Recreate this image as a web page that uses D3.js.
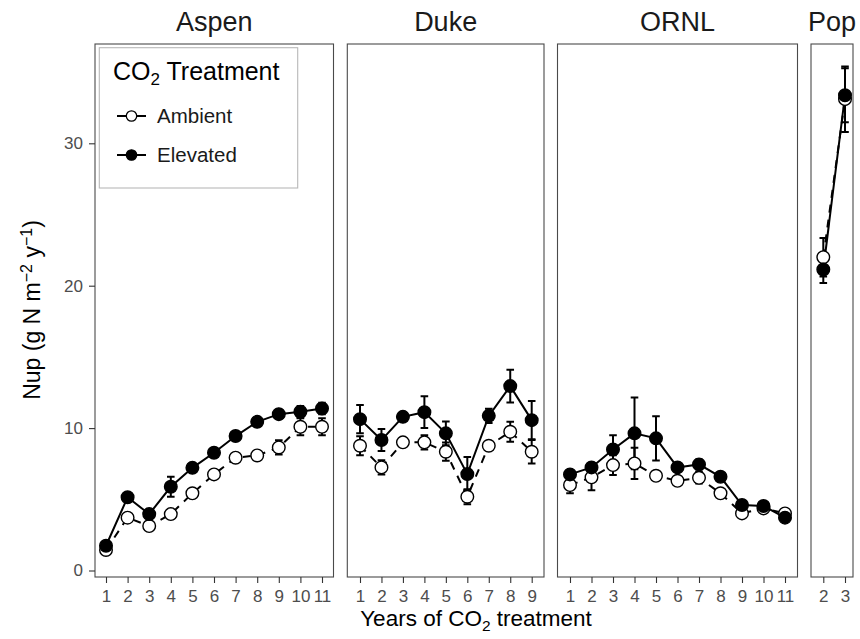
<!DOCTYPE html>
<html>
<head>
<meta charset="utf-8">
<script src="https://cdn.jsdelivr.net/npm/d3@7/dist/d3.min.js"></script>
<style>
  html, body { margin: 0; padding: 0; background: #ffffff; }
  svg { display: block; font-family: "Liberation Sans", Arial, Helvetica, sans-serif; }
</style>
</head>
<body>
<script>
// ---- Data: N uptake (g N m^-2 y^-1), mean and SE by year of CO2 treatment ----
const sites = ["Aspen", "Duke", "ORNL", "Pop"];
const yTicks = [0, 10, 20, 30];

const aspenYears = [1, 2, 3, 4, 5, 6, 7, 8, 9, 10, 11];
const aspenAmbient = [1.44, 3.71, 3.12, 3.96, 5.42, 6.75, 7.92, 8.08, 8.64, 10.09, 10.09];
const aspenAmbientSE = [0.2, 0.3, 0.2, 0.3, 0.3, 0.2, 0.3, 0.3, 0.5, 0.6, 0.6];
const aspenElevated = [1.74, 5.14, 3.96, 5.88, 7.21, 8.27, 9.44, 10.44, 10.98, 11.15, 11.38];
const aspenElevatedSE = [0.2, 0.3, 0.3, 0.7, 0.3, 0.3, 0.3, 0.3, 0.3, 0.4, 0.4];

const dukeYears = [1, 2, 3, 4, 5, 6, 7, 8, 9];
const dukeAmbient = [8.76, 7.24, 9.0, 9.0, 8.34, 5.18, 8.76, 9.74, 8.34];
const dukeAmbientSE = [0.67, 0.5, 0.25, 0.5, 0.64, 0.53, 0.3, 0.7, 0.82];
const dukeElevated = [10.63, 9.16, 10.79, 11.12, 9.63, 6.77, 10.86, 12.95, 10.56];
const dukeElevatedSE = [1.0, 0.77, 0.3, 1.12, 0.84, 1.2, 0.5, 1.15, 1.35];

const ornlYears = [1, 2, 3, 4, 5, 6, 7, 8, 9, 10, 11];
const ornlAmbient = [6.0, 6.54, 7.4, 7.52, 6.65, 6.3, 6.51, 5.42, 4.01, 4.36, 4.01];
const ornlAmbientSE = [0.58, 0.9, 0.7, 1.1, 0.3, 0.3, 0.4, 0.3, 0.3, 0.3, 0.2];
const ornlElevated = [6.75, 7.24, 8.5, 9.63, 9.28, 7.24, 7.45, 6.58, 4.6, 4.53, 3.71];
const ornlElevatedSE = [0.3, 0.3, 1.0, 2.52, 1.55, 0.3, 0.35, 0.3, 0.3, 0.3, 0.25];

const popYears = [2, 3];
const popAmbient = [22.0, 33.1];
const popAmbientSE = [1.35, 2.3];
const popElevated = [21.14, 33.37];
const popElevatedSE = [0.95, 1.9];

const treatments = ["Ambient", "Elevated"];

// Assemble per-site series
const siteData = [
  { years: aspenYears, amb: aspenAmbient, ambSE: aspenAmbientSE, elev: aspenElevated, elevSE: aspenElevatedSE },
  { years: dukeYears, amb: dukeAmbient, ambSE: dukeAmbientSE, elev: dukeElevated, elevSE: dukeElevatedSE },
  { years: ornlYears, amb: ornlAmbient, ambSE: ornlAmbientSE, elev: ornlElevated, elevSE: ornlElevatedSE },
  { years: popYears, amb: popAmbient, ambSE: popAmbientSE, elev: popElevated, elevSE: popElevatedSE }
].map((s, i) => ({
  site: sites[i],
  years: s.years,
  series: [
    { trt: "Ambient", pts: s.years.map((yr, j) => ({ yr, v: s.amb[j], se: s.ambSE[j] })) },
    { trt: "Elevated", pts: s.years.map((yr, j) => ({ yr, v: s.elev[j], se: s.elevSE[j] })) }
  ]
}));

// ---- Layout ----
const W = 860, H = 639;
const panelTop = 44, panelBottom = 577;
const panels = [
  { left: 95,    right: 333.5, r0: 106,   r1: 322 },
  { left: 347.3, right: 544,   r0: 360,   r1: 531.7 },
  { left: 557.5, right: 797.5, r0: 570,   r1: 785 },
  { left: 811,   right: 853,   r0: 823.3, r1: 845 }
];

const ink = "#000000";
const axisGrey = "#4d4d4d";
const borderGrey = "#4a4a4a";
const ptR = 6.3;
const dash = "8,7";

const svg = d3.select("body").append("svg").attr("width", W).attr("height", H);
svg.append("rect").attr("width", W).attr("height", H).attr("fill", "#ffffff");

const y = d3.scaleLinear().domain([0, 30]).range([570.5, 143.3]);

siteData.forEach((sd, i) => {
  const p = panels[i];
  const x = d3.scaleLinear()
    .domain([sd.years[0], sd.years[sd.years.length - 1]])
    .range([p.r0, p.r1]);

  const g = svg.append("g");

  // panel background
  g.append("rect")
    .attr("x", p.left).attr("y", panelTop)
    .attr("width", p.right - p.left).attr("height", panelBottom - panelTop)
    .attr("fill", "#ffffff");

  // strip label
  svg.append("text")
    .attr("x", (p.left + p.right) / 2).attr("y", 31)
    .attr("text-anchor", "middle")
    .attr("font-size", 27).attr("fill", "#1a1a1a")
    .text(sd.site);

  const line = d3.line().x(d => x(d.yr)).y(d => y(d.v));

  // lines
  sd.series.forEach(s => {
    g.append("path")
      .datum(s.pts)
      .attr("d", line)
      .attr("fill", "none")
      .attr("stroke", ink)
      .attr("stroke-width", 2)
      .attr("stroke-dasharray", s.trt === "Ambient" ? dash : null);
  });

  // error bars
  const cap = 3.8;
  sd.series.forEach(s => {
    const eb = g.append("g").attr("stroke", ink).attr("stroke-width", 2).attr("fill", "none");
    s.pts.forEach(d => {
      const cx = x(d.yr), yt = y(d.v + d.se), yb = y(d.v - d.se);
      eb.append("path").attr("d", `M${cx - cap},${yt}H${cx + cap}M${cx},${yt}V${yb}M${cx - cap},${yb}H${cx + cap}`);
    });
  });

  // points
  sd.series.forEach(s => {
    g.append("g").selectAll("circle")
      .data(s.pts).join("circle")
      .attr("cx", d => x(d.yr)).attr("cy", d => y(d.v))
      .attr("r", ptR)
      .attr("fill", s.trt === "Ambient" ? "#ffffff" : ink)
      .attr("stroke", ink).attr("stroke-width", 1.4);
  });

  // panel border
  g.append("rect")
    .attr("x", p.left).attr("y", panelTop)
    .attr("width", p.right - p.left).attr("height", panelBottom - panelTop)
    .attr("fill", "none").attr("stroke", borderGrey).attr("stroke-width", 1.1);

  // x axis
  const xa = svg.append("g")
    .attr("transform", `translate(0,${panelBottom})`)
    .call(d3.axisBottom(x).tickValues(sd.years).tickFormat(d3.format("d")).tickSize(6).tickPadding(7));
  xa.select(".domain").remove();
  xa.selectAll(".tick line").attr("stroke", "#333333").attr("stroke-width", 1.1);
  xa.selectAll(".tick text").attr("fill", axisGrey).attr("font-size", 17)
    .attr("font-family", "'Liberation Sans', Arial, sans-serif");

  // y axis on first panel
  if (i === 0) {
    const ya = svg.append("g")
      .attr("transform", `translate(${p.left},0)`)
      .call(d3.axisLeft(y).tickValues(yTicks).tickSize(6).tickPadding(6));
    ya.select(".domain").remove();
    ya.selectAll(".tick line").attr("stroke", "#333333").attr("stroke-width", 1.1);
    ya.selectAll(".tick text").attr("fill", axisGrey).attr("font-size", 17)
      .attr("font-family", "'Liberation Sans', Arial, sans-serif");
  }
});

// ---- Axis titles ----
const xTitle = svg.append("text")
  .attr("x", 476).attr("y", 626)
  .attr("text-anchor", "middle").attr("font-size", 22.5).attr("fill", ink);
xTitle.append("tspan").text("Years of CO");
xTitle.append("tspan").attr("dy", 5).attr("font-size", 15.5).text("2");
xTitle.append("tspan").attr("dy", -5).text(" treatment");

const yTitle = svg.append("text")
  .attr("transform", `translate(40,310) rotate(-90)`)
  .attr("text-anchor", "middle").attr("font-size", 23).attr("fill", ink);
yTitle.append("tspan").text("Nup (g N m");
yTitle.append("tspan").attr("dy", -8).attr("font-size", 16).text("\u22122");
yTitle.append("tspan").attr("dy", 8).text(" y");
yTitle.append("tspan").attr("dy", -8).attr("font-size", 16).text("\u22121");
yTitle.append("tspan").attr("dy", 8).text(")");

// ---- Legend ----
const lg = svg.append("g");
lg.append("rect")
  .attr("x", 99.3).attr("y", 47.7).attr("width", 198.4).attr("height", 140.3)
  .attr("fill", "#ffffff").attr("stroke", "#b8b8b8").attr("stroke-width", 1.1);
const lt = lg.append("text").attr("x", 113).attr("y", 80).attr("font-size", 25).attr("fill", ink);
lt.append("tspan").text("CO");
lt.append("tspan").attr("dy", 5).attr("font-size", 17).text("2");
lt.append("tspan").attr("dy", -5).text(" Treatment");

treatments.forEach((t, k) => {
  const cy = 116 + k * 39;
  lg.append("line")
    .attr("x1", 117).attr("x2", 146).attr("y1", cy).attr("y2", cy)
    .attr("stroke", ink).attr("stroke-width", 2)
    .attr("stroke-dasharray", t === "Ambient" ? "10,9" : null);
  lg.append("circle")
    .attr("cx", 131.5).attr("cy", cy).attr("r", 5.2)
    .attr("fill", t === "Ambient" ? "#ffffff" : ink)
    .attr("stroke", ink).attr("stroke-width", 1.3);
  lg.append("text")
    .attr("x", 157).attr("y", cy + 7)
    .attr("font-size", 20.5).attr("fill", "#1a1a1a")
    .text(t);
});
</script>
</body>
</html>
